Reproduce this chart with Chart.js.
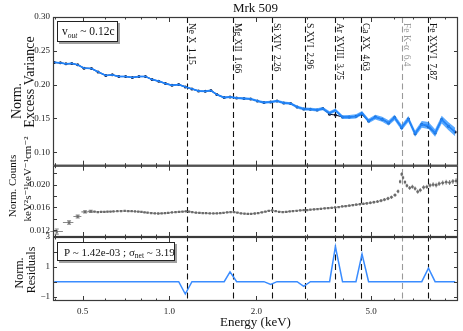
<!DOCTYPE html>
<html><head><meta charset="utf-8">
<script src="https://cdn.jsdelivr.net/npm/chart.js@4/dist/chart.umd.min.js"></script>
<style>html,body{margin:0;padding:0;background:#fff}#wrap{width:463px;height:331px;position:relative}</style>
</head><body><div id="wrap"><canvas id="c" width="463" height="331"></canvas></div>
<script>
// ---- data ----
const varEnergy = [0.399,0.419,0.438,0.459,0.481,0.506,0.537,0.566,0.602,0.634,0.668,0.705,0.744,0.784,0.826,0.871,0.919,0.969,1.021,1.077,1.135,1.197,1.262,1.331,1.392,1.46,1.548,1.622,1.71,1.813,1.913,2.017,2.126,2.243,2.36,2.49,2.63,2.77,2.92,3.08,3.25,3.40,3.59,3.76,3.98,4.2,4.43,4.65,4.9,5.17,5.46,5.75,6.03,6.38,6.73,7.1,7.49,7.9,8.33,8.78,9.27,9.78];
const varValues = [0.2328,0.2322,0.2307,0.2313,0.2292,0.2243,0.2238,0.2188,0.2135,0.2144,0.212,0.212,0.2105,0.212,0.212,0.2075,0.205,0.2016,0.199,0.2001,0.1966,0.1936,0.1906,0.19,0.1912,0.1853,0.1808,0.1817,0.1802,0.1794,0.1788,0.1758,0.1734,0.1743,0.1758,0.1728,0.172,0.1669,0.164,0.1635,0.1625,0.1645,0.156,0.155,0.152,0.152,0.153,0.156,0.1461,0.152,0.1487,0.1432,0.1512,0.1363,0.1491,0.1274,0.1412,0.1372,0.1283,0.1482,0.1383,0.1298];
const varModel = [0.2328,0.2322,0.2307,0.2313,0.2292,0.2243,0.2238,0.2188,0.2135,0.2144,0.212,0.212,0.2105,0.212,0.212,0.2075,0.205,0.2016,0.199,0.2001,0.1966,0.1936,0.1906,0.19,0.1912,0.1853,0.1808,0.1817,0.1802,0.1794,0.1788,0.1758,0.1734,0.1743,0.1758,0.1728,0.172,0.1669,0.164,0.1635,0.1625,0.1645,0.158,0.162,0.152,0.152,0.153,0.158,0.1461,0.152,0.1487,0.1432,0.1512,0.1363,0.1491,0.1274,0.1412,0.1395,0.1283,0.1482,0.1383,0.1298];
const varErr = [0.0012,0.0012,0.0012,0.0012,0.0012,0.0012,0.0012,0.0012,0.0012,0.0012,0.0012,0.0012,0.0012,0.0012,0.0012,0.0012,0.0013,0.0013,0.0013,0.0013,0.0014,0.0014,0.0014,0.0015,0.0015,0.0015,0.0016,0.0016,0.0016,0.0017,0.0017,0.0018,0.0018,0.0019,0.0019,0.002,0.002,0.0021,0.0022,0.0023,0.0024,0.0025,0.0026,0.0027,0.0028,0.0029,0.003,0.0031,0.0033,0.0035,0.0037,0.0039,0.0041,0.0043,0.0045,0.0047,0.005,0.0052,0.0055,0.0058,0.006,0.0062];
const resValues = [0,0,0,0,0,0,0,0,0,0,0,0,0,0,0,0,0,0,0,0,-0.83,0,0,0,0,0,0,0.66,0,0,0,0,0,-0.18,0,0,0,0,-0.31,0,0,0,0,2.36,0,0,0,1.85,0,0,0,0,0,0,0,0,0,0.9,0,0,0,0];
const cntEnergy = [0.407,0.449,0.481,0.510,0.534,0.55,0.565,0.58,0.595,0.61,0.625,0.64,0.66,0.68,0.70,0.72,0.74,0.76,0.78,0.80,0.82,0.84,0.865,0.89,0.915,0.94,0.965,0.99,1.02,1.05,1.08,1.11,1.14,1.17,1.2,1.235,1.27,1.305,1.34,1.38,1.42,1.46,1.5,1.54,1.585,1.63,1.675,1.72,1.77,1.82,1.87,1.92,1.975,2.03,2.09,2.15,2.21,2.27,2.335,2.4,2.47,2.54,2.61,2.68,2.76,2.84,2.92,3.0,3.08,3.17,3.26,3.35,3.45,3.55,3.65,3.75,3.86,3.97,4.08,4.2,4.32,4.44,4.57,4.7,4.83,4.97,5.11,5.26,5.41,5.56,5.72,5.88,6.05,6.2,6.3,6.38,6.45,6.55,6.65,6.8,6.95,7.1,7.25,7.4,7.6,7.8,8.0,8.2,8.4,8.6,8.85,9.1,9.35,9.6,9.85];
const cntValues = [0.01176,0.01333,0.01439,0.01521,0.01530,0.01525,0.01518,0.01522,0.01520,0.01523,0.01526,0.01528,0.01532,0.01535,0.01537,0.01534,0.01532,0.01528,0.01524,0.01519,0.01512,0.01506,0.01500,0.01495,0.01492,0.01494,0.01497,0.01503,0.01510,0.01516,0.01521,0.01525,0.01530,0.01524,0.01515,0.01508,0.01503,0.01500,0.01497,0.01495,0.01493,0.01494,0.01497,0.01505,0.01512,0.01518,0.01516,0.01508,0.01495,0.01488,0.01484,0.01487,0.01492,0.01500,0.01512,0.01525,0.01540,0.01545,0.01532,0.01522,0.01518,0.01521,0.01528,0.01535,0.01540,0.01546,0.01550,0.01552,0.01558,0.01565,0.01570,0.01575,0.01582,0.01588,0.01592,0.01598,0.01605,0.01615,0.01622,0.01630,0.01640,0.01648,0.01655,0.01662,0.01670,0.01680,0.01690,0.01702,0.01718,0.01735,0.01755,0.01778,0.01815,0.01880,0.02050,0.02180,0.02120,0.02040,0.01980,0.01940,0.01960,0.01930,0.01875,0.01900,0.01950,0.01960,0.01985,0.02000,0.01990,0.02015,0.02030,0.02040,0.02035,0.02055,0.02065];
const cntErr = [0.00045,0.00030,0.00025,0.00020,0.00018,0.00012,0.00012,0.00012,0.00012,0.00012,0.00012,0.00012,0.00012,0.00012,0.00012,0.00012,0.00012,0.00012,0.00012,0.00012,0.00012,0.00012,0.00012,0.00012,0.00012,0.00012,0.00012,0.00012,0.00012,0.00012,0.00012,0.00012,0.00012,0.00012,0.00012,0.00012,0.00012,0.00012,0.00012,0.00012,0.00012,0.00012,0.00012,0.00012,0.00012,0.00012,0.00012,0.00012,0.00012,0.00012,0.00012,0.00012,0.00012,0.00012,0.00012,0.00012,0.00013,0.00013,0.00013,0.00013,0.00013,0.00013,0.00013,0.00013,0.00014,0.00014,0.00014,0.00014,0.00015,0.00015,0.00015,0.00016,0.00016,0.00017,0.00017,0.00018,0.00018,0.00019,0.00019,0.0002,0.0002,0.00021,0.00022,0.00023,0.00024,0.00025,0.00026,0.00027,0.00028,0.00029,0.0003,0.0003,0.00031,0.00032,0.00033,0.00034,0.00034,0.00034,0.00034,0.00035,0.00035,0.00036,0.00036,0.00037,0.00037,0.00038,0.00038,0.00039,0.0004,0.0004,0.00041,0.00042,0.00043,0.00044,0.00045];
const lineNames = ['Ne X','Mg XII','Si XIV','S XVI','Ar XVIII','Ca XX','Fe K-\u03b1','Fe XXVI'];
const lineEnergies = [1.15,1.66,2.26,2.96,3.75,4.63,6.4,7.87];
const lineLabels = ['1.15','1.66','2.26','2.96','3.75','4.63','6.4','7.87'];
const xMajorTicks = [0.5,1.0,2.0,5.0];
const xMinorTicks = [0.4,0.6,0.7,0.8,0.9,3,4,6,7,8,9];
const yVarTicks = [0.10,0.15,0.20,0.25,0.30];
const yCntTicks = [0.012,0.014,0.016,0.018,0.020,0.022];
const yResTicks = [-1,0,1,2,3];
const titleText = 'Mrk 509';
const yTitles = [['Norm.','Excess Variance'],['Norm. Counts','keV\u00b2s\u207b\u00b9keV\u207b\u00b9cm\u207b\u00b2'],['Norm.','Residuals']];

const SERIF = "'Liberation Serif','DejaVu Serif',serif";
const pts = (xs, ys) => xs.map((x,i)=>({x:x, y:ys[i]}));

const decor = {
  id:'decor',
  beforeDatasetsDraw(chart){
    const ctx = chart.ctx, a = chart.chartArea, xs = chart.scales.x;
    ctx.save();
    lineEnergies.forEach((e,i)=>{
      const px = Math.round(xs.getPixelForValue(e))+0.5;
      ctx.strokeStyle = i===6 ? '#9a9a9a' : '#111';
      ctx.lineWidth = 1.1;
      ctx.setLineDash([6,3.5]);
      ctx.beginPath(); ctx.moveTo(px,a.top); ctx.lineTo(px,a.bottom); ctx.stroke();
    });
    ctx.setLineDash([]);
    const ys = chart.scales.yCnt;
    ctx.strokeStyle = '#8a8a8a'; ctx.lineWidth = 1.1;
    cntEnergy.forEach((e,i)=>{
      const lo = i>0 ? Math.sqrt(cntEnergy[i-1]*e) : e*0.95;
      const hi = i<cntEnergy.length-1 ? Math.sqrt(cntEnergy[i+1]*e) : e*1.0125;
      const px = xs.getPixelForValue(e), py = ys.getPixelForValue(cntValues[i]);
      const y1 = ys.getPixelForValue(cntValues[i]-cntErr[i]), y2 = ys.getPixelForValue(cntValues[i]+cntErr[i]);
      ctx.beginPath();
      ctx.moveTo(xs.getPixelForValue(lo), py); ctx.lineTo(xs.getPixelForValue(hi), py);
      ctx.moveTo(px, y1); ctx.lineTo(px, y2);
      ctx.stroke();
      if (i<5){ ctx.beginPath(); ctx.moveTo(px-2,y1); ctx.lineTo(px+2,y1); ctx.moveTo(px-2,y2); ctx.lineTo(px+2,y2); ctx.stroke(); }
    });
    ctx.restore();
  },
  afterDatasetsDraw(chart){
    const ctx = chart.ctx, a = chart.chartArea, xs = chart.scales.x;
    ctx.save();
    const panels = [[chart.scales.yVar, yVarTicks],[chart.scales.yCnt, yCntTicks],[chart.scales.yRes, yResTicks]];
    panels.forEach(([s, tv])=>{
      ctx.strokeStyle = '#3a3a3a'; ctx.lineWidth = 1.2;
      ctx.strokeRect(a.left+0.5, s.top+0.5, a.right-a.left-1, s.bottom-s.top-1);
      ctx.lineWidth = 1;
      ctx.beginPath();
      tv.forEach(v=>{
        const py = Math.round(s.getPixelForValue(v))+0.5;
        ctx.moveTo(a.left, py); ctx.lineTo(a.left+4, py);
        ctx.moveTo(a.right, py); ctx.lineTo(a.right-4, py);
      });
      xMajorTicks.forEach(v=>{
        const px = Math.round(xs.getPixelForValue(v))+0.5;
        ctx.moveTo(px, s.top); ctx.lineTo(px, s.top+5);
        ctx.moveTo(px, s.bottom); ctx.lineTo(px, s.bottom-5);
      });
      xMinorTicks.forEach(v=>{
        const px = Math.round(xs.getPixelForValue(v))+0.5;
        ctx.moveTo(px, s.top); ctx.lineTo(px, s.top+2.5);
        ctx.moveTo(px, s.bottom); ctx.lineTo(px, s.bottom-2.5);
      });
      ctx.stroke();
    });
    // title
    ctx.fillStyle = '#111'; ctx.textAlign = 'center'; ctx.textBaseline = 'middle';
    ctx.font = '13px ' + SERIF;
    ctx.fillText(titleText, (a.left+a.right)/2, 9);
    // y titles (two lines each, rotated)
    const yTitlePos = [
      [14, [[17, 101],[30, 82]]],
      [11, [[13, 186],[28, 179]]],
      [12, [[20, 273],[32, 270]]]
    ];
    yTitlePos.forEach(([size, pos], k)=>{
      ctx.font = size + 'px ' + SERIF;
      pos.forEach(([cx, cy], j)=>{
        ctx.save(); ctx.translate(cx, cy); ctx.rotate(-Math.PI/2);
        ctx.fillText(yTitles[k][j], 0, 0); ctx.restore();
      });
    });
    // line labels
    ctx.font = '9.5px ' + SERIF;
    ctx.textBaseline = 'alphabetic';
    ctx.textAlign = 'left';
    lineEnergies.forEach((e,i)=>{
      const px = Math.round(xs.getPixelForValue(e));
      ctx.save();
      ctx.translate(px+2, a.top+6);
      ctx.rotate(Math.PI/2);
      ctx.fillStyle = i===6 ? '#9a9a9a' : '#111';
      ctx.fillText(lineNames[i] + '  ' + lineLabels[i], 0, 0);
      ctx.restore();
    });
    // annotation boxes
    function box(x,y,w,h){
      ctx.fillStyle = '#a0a0a0'; ctx.fillRect(x+2,y+2,w,h);
      ctx.fillStyle = '#fff'; ctx.fillRect(x,y,w,h);
      ctx.strokeStyle = '#222'; ctx.lineWidth = 1; ctx.strokeRect(x+0.5,y+0.5,w-1,h-1);
    }
    box(57,21,61,21);
    ctx.fillStyle = '#111'; ctx.textBaseline='alphabetic';
    let x = 62;
    ctx.font = '11.5px ' + SERIF; ctx.fillText('v', x, 35); x += ctx.measureText('v').width;
    ctx.font = 'italic 7.5px ' + SERIF; ctx.fillText('out', x, 37.5); x += ctx.measureText('out').width;
    ctx.font = '11.5px ' + SERIF; ctx.fillText(' ~ 0.12c', x, 35);
    box(57,242,118,19);
    x = 64;
    ctx.fillStyle = '#111';
    ctx.font = '11px ' + SERIF; let t='P ~ 1.42e-03 ; \u03c3'; ctx.fillText(t, x, 255.5); x += ctx.measureText(t).width;
    ctx.font = '7.5px ' + SERIF; ctx.fillText('net', x, 258); x += ctx.measureText('net').width;
    ctx.font = '11px ' + SERIF; ctx.fillText(' ~ 3.19', x, 255.5);
    ctx.restore();
  }
};

const tickFont = {family: SERIF, size: 9};
const noGrid = {display:false, drawTicks:false};
new Chart(document.getElementById('c'), {
  type:'line',
  data:{datasets:[
    {data: pts(varEnergy, varModel.map((v,i)=>v+varErr[i])), yAxisID:'yVar', borderWidth:0, pointRadius:0, fill:'+1', backgroundColor:'rgba(35,140,255,0.75)', tension:0},
    {data: pts(varEnergy, varModel.map((v,i)=>v-varErr[i])), yAxisID:'yVar', borderWidth:0, pointRadius:0, fill:false},
    {data: pts(varEnergy, varModel), yAxisID:'yVar', borderColor:'#1c6cf0', borderWidth:1.4, pointRadius:0, fill:false},
    {data: pts(varEnergy, varValues), yAxisID:'yVar', borderColor:'#0c1430', borderWidth:1.1, pointRadius:1.5, pointBackgroundColor:'#0c1430', pointBorderWidth:0, fill:false},
    {data: pts(cntEnergy, cntValues), yAxisID:'yCnt', showLine:false, pointStyle:'rect', pointRadius:1.6, pointBackgroundColor:'#6a6a6a', pointBorderWidth:0},
    {data: pts(varEnergy, resValues), yAxisID:'yRes', borderColor:'#3a8cff', borderWidth:1.5, pointRadius:0, fill:false}
  ]},
  options:{
    responsive:false, animation:false, devicePixelRatio:1,
    layout:{padding:{left:0,right:5,top:17,bottom:0}},
    plugins:{ legend:{display:false}, tooltip:{enabled:false}, title:{display:false} },
    scales:{
      x:{type:'logarithmic', position:'bottom', min:0.395, max:10,
        grid:noGrid, border:{display:false},
        afterBuildTicks: s => { s.ticks = xMajorTicks.concat(xMinorTicks).sort((p,q)=>p-q).map(v=>({value:v})); },
        ticks:{autoSkip:false, maxRotation:0, font:tickFont, color:'#222', padding:5,
          callback: v => xMajorTicks.includes(v) ? v.toFixed(1) : ''},
        afterFit: s => { s.height = 30; },
        title:{display:true, text:'Energy (keV)', color:'#111', font:{family:SERIF, size:13}, padding:{top:0,bottom:1}}
      },
      yRes:{type:'linear', position:'left', stack:'p', stackWeight:64, weight:1, min:-1.3, max:3,
        grid:noGrid, border:{display:false},
        afterBuildTicks: s => { s.ticks = yResTicks.map(v=>({value:v})); },
        ticks:{font:tickFont, color:'#222', padding:3, callback: v => v<0 ? '\u2212'+Math.abs(v) : String(v)},
        afterFit: s => { s.width = 53; }
      },
      yCnt:{type:'linear', position:'left', stack:'p', stackWeight:71.3, weight:2, min:0.0108, max:0.0233,
        grid:noGrid, border:{display:false},
        afterBuildTicks: s => { s.ticks = yCntTicks.map(v=>({value:v})); },
        ticks:{font:tickFont, color:'#222', padding:3, callback: v => v.toFixed(3)},
        afterFit: s => { s.width = 53; }
      },
      yVar:{type:'linear', position:'left', stack:'p', stackWeight:148.7, weight:3, min:0.08, max:0.30,
        grid:noGrid, border:{display:false},
        afterBuildTicks: s => { s.ticks = yVarTicks.map(v=>({value:v})); },
        ticks:{font:tickFont, color:'#222', padding:3, callback: v => v.toFixed(2)},
        afterFit: s => { s.width = 53; }
      }
    }
  },
  plugins:[decor]
});
</script>
</body></html>
